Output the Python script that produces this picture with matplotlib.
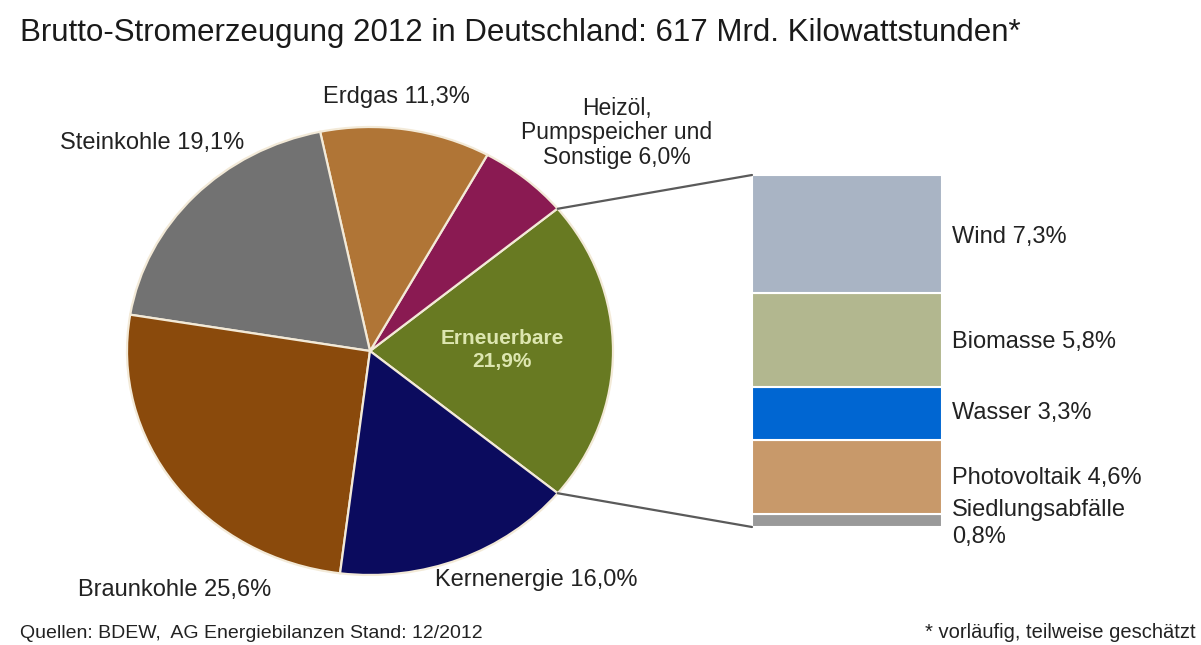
import matplotlib.pyplot as plt
import numpy as np
from matplotlib.patches import ConnectionPatch

plt.rcParams['font.family'] = ['Liberation Sans', 'DejaVu Sans']

# pie data (counter-clockwise, starting with Erneuerbare)
pie_labels = ['Erneuerbare', 'Heizöl, Pumpspeicher und Sonstige', 'Erdgas',
              'Steinkohle', 'Braunkohle', 'Kernenergie']
pie_values = [21.9, 6.0, 11.3, 19.1, 25.6, 16.0]
pie_colors = ['#687a22', '#8a1a52', '#b07536', '#727272', '#8a4a0c', '#0b0b5e']

# breakdown of renewables (bottom to top)
bar_labels = ['Siedlungsabfälle', 'Photovoltaik', 'Wasser', 'Biomasse', 'Wind']
bar_values = [0.8, 4.6, 3.3, 5.8, 7.3]
bar_colors = ['#9a9a9a', '#c8996a', '#0066d2', '#b2b78f', '#a9b4c4']

W, H = 1201, 645
fig = plt.figure(figsize=(W / 100, H / 100), dpi=100)

def px_axes(x0, y0, x1, y1):
    # axes from pixel box (top-left origin)
    return fig.add_axes([x0 / W, 1 - y1 / H, (x1 - x0) / W, (y1 - y0) / H])

# pie is slightly stretched horizontally in the reference
ax = px_axes(370 - 243, 351 - 224, 370 + 243, 351 + 224)
start = -pie_values[0] * 3.6 / 2
wedges, _ = ax.pie(pie_values, colors=pie_colors, startangle=start, counterclock=True,
                   radius=1, wedgeprops=dict(edgecolor='#f3ead8', linewidth=1.6))
ax.set_aspect('auto')
ax.set_xlim(-1, 1)
ax.set_ylim(-1, 1)
ax.axis('off')

# stacked bar
bx = px_axes(752, 175, 942, 527)
total = sum(bar_values)
bottom = 0
for v, c in zip(bar_values, bar_colors):
    bx.bar(0, v, bottom=bottom, width=1, color=c, edgecolor='white', linewidth=1.5)
    bottom += v
bx.set_xlim(-0.5, 0.5)
bx.set_ylim(0, total)
bx.axis('off')

# connection lines from Erneuerbare wedge to bar
a = np.deg2rad(start)
for ang, yb in [(-a, total), (a, 0)]:
    con = ConnectionPatch(xyA=(np.cos(ang), np.sin(ang)), coordsA=ax.transData,
                          xyB=(-0.5, yb), coordsB=bx.transData,
                          color='#5a5a5a', linewidth=1.6)
    fig.add_artist(con)

def ftext(x, y, s, **kw):
    kw.setdefault('fontsize', 17)
    kw.setdefault('color', '#222222')
    kw.setdefault('va', 'center')
    fig.text(x / W, 1 - y / H, s, **kw)

ftext(20, 33, 'Brutto-Stromerzeugung 2012 in Deutschland: 617 Mrd. Kilowattstunden*',
      fontsize=22.5, color='#1a1a1a')

ftext(396, 97, 'Erdgas 11,3%', ha='center')
ftext(60, 143, 'Steinkohle 19,1%', ha='left')
ftext(617, 133, 'Heizöl,\nPumpspeicher und\nSonstige 6,0%', ha='center',
      fontsize=16.5, linespacing=1.1)
ftext(502, 350, 'Erneuerbare\n21,9%', ha='center', color='#dde6b0',
      fontsize=15, fontweight='bold', linespacing=1.3)
ftext(78, 590, 'Braunkohle 25,6%', ha='left')
ftext(435, 580, 'Kernenergie 16,0%', ha='left')

ftext(952, 237, 'Wind 7,3%')
ftext(952, 342, 'Biomasse 5,8%')
ftext(952, 413, 'Wasser 3,3%')
ftext(952, 478, 'Photovoltaik 4,6%')
ftext(952, 510, 'Siedlungsabfälle')
ftext(952, 537, '0,8%')

ftext(20, 633, 'Quellen: BDEW,  AG Energiebilanzen Stand: 12/2012', fontsize=14)
ftext(925, 633, '* vorläufig, teilweise geschätzt', fontsize=14.5)

fig.savefig('out.png', dpi=100, facecolor='white')
